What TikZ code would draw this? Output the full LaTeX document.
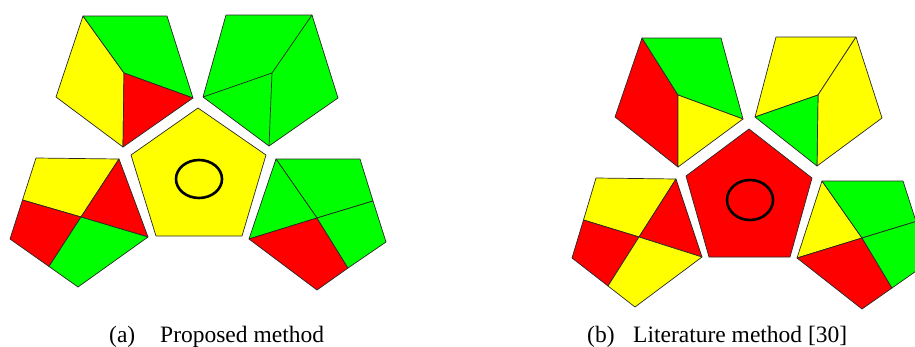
\documentclass[tikz,border=0pt]{standalone}
\usepackage{fontspec}
\setmainfont{Liberation Serif}
\definecolor{cy}{RGB}{255,255,0}
\definecolor{cg}{RGB}{0,255,0}
\definecolor{cr}{RGB}{255,0,0}
\definecolor{edge}{RGB}{40,40,40}
\tikzset{
  face/.style={draw=edge, line width=0.7pt, line join=round},
  yface/.style={face, fill=cy},
  gface/.style={face, fill=cg},
  rface/.style={face, fill=cr},
  ring/.style={draw=black, line width=2.6pt},
  caption/.style={anchor=base west, inner sep=0pt, font=\fontsize{23.5}{26}\selectfont}
}
\begin{document}
\begin{tikzpicture}[x=1pt, y=-1pt]
\useasboundingbox (0,0) rectangle (915,346);
\begin{scope}
\clip (0,0) rectangle (915,346);

% ---------- (a) proposed method ----------
% centre face
\path[yface] (198,108) -- (266,155) -- (242,236) -- (156,236) -- (131,155) -- cycle;
\draw[ring] (199,179) ellipse [x radius=23, y radius=19];

% upper left face
\path[yface] (83,16) -- (124,73) -- (123,147) -- (56,97) -- cycle;
\path[gface] (83,16) -- (167,16) -- (193,98) -- (124,73) -- cycle;
\path[rface] (124,73) -- (193,98) -- (123,147) -- cycle;

% upper right face
\path[gface] (226,15) -- (312,15) -- (338,98) -- (269,146) -- (203,97) -- cycle;
\draw[face] (312,15) -- (272,73) -- (203,97) (272,73) -- (269,146);

% lower left face
\path[yface] (36,158) -- (119,159) -- (81,217) -- (22.5,200) -- cycle;
\path[rface] (119,159) -- (148,237) -- (81,217) -- cycle;
\path[rface] (22.5,200) -- (81,217) -- (49,266.5) -- (10,239) -- cycle;
\path[gface] (81,217) -- (148,237) -- (78,287) -- (49,266.5) -- cycle;

% lower right face
\path[gface] (276,159) -- (360,159) -- (373,201) -- (317,218) -- cycle;
\path[gface] (276,159) -- (317,218) -- (249,239) -- cycle;
\path[rface] (249,239) -- (317,218) -- (348,268) -- (317,290) -- cycle;
\path[gface] (317,218) -- (373,201) -- (386,242) -- (348,268) -- cycle;

% ---------- (b) literature method ----------
% centre face
\path[rface] (749,129) -- (812,178) -- (790,257) -- (709,257) -- (686,176) -- cycle;
\draw[ring] (750,200) ellipse [x radius=23, y radius=20];

% upper left face
\path[rface] (642,38) -- (678,95) -- (678,167) -- (615,117) -- cycle;
\path[gface] (642,38) -- (721,38) -- (743,119) -- (678,95) -- cycle;
\path[yface] (678,95) -- (743,119) -- (678,167) -- cycle;

% upper right face
\path[yface] (776,37) -- (856,37) -- (818,95) -- (755,117) -- cycle;
\path[yface] (856,37) -- (882,118) -- (817,166) -- (818,95) -- cycle;
\path[gface] (755,117) -- (818,95) -- (817,166) -- cycle;

% lower left face
\path[yface] (596,178) -- (676,179) -- (639,237) -- (583.5,220) -- cycle;
\path[rface] (676,179) -- (702,257) -- (639,237) -- cycle;
\path[rface] (583.5,220) -- (639,237) -- (608,286) -- (572,258) -- cycle;
\path[yface] (639,237) -- (702,257) -- (635,307) -- (608,286) -- cycle;

% lower right face (runs past the right border)
\path[yface] (822,181) -- (862,238) -- (797,258) -- cycle;
\path[gface] (822,181) -- (903,181) -- (916,221.5) -- (862,238) -- cycle;
\path[rface] (797,258) -- (862,238) -- (892,288) -- (862,309) -- cycle;
\path[gface] (862,238) -- (916,221.5) -- (929,262) -- (892,288) -- cycle;
\end{scope}

% captions
\node[caption] (capa) at (109,342) {(a)};
\node[caption] (capat) at (160,342) {Proposed method};
\node[caption] (capb) at (587,342) {(b)};
\node[caption] (capbt) at (633,342) {Literature method [30]};
\end{tikzpicture}
\end{document}
